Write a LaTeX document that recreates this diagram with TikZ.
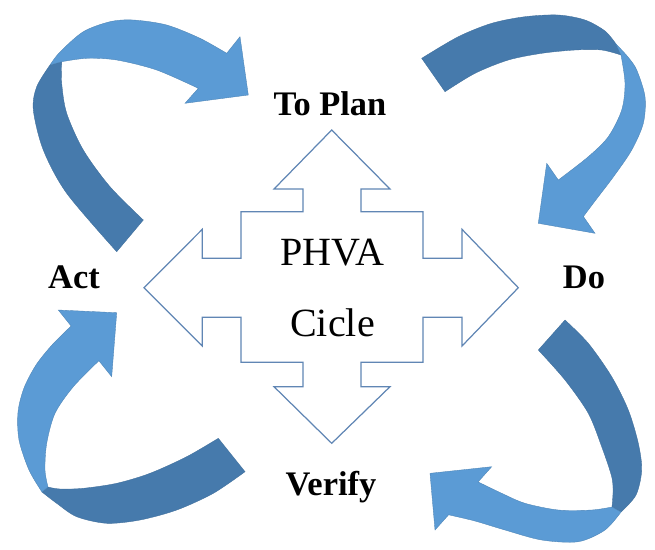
\documentclass[tikz,border=0pt]{standalone}
\usepackage{fontspec}
\setmainfont{Liberation Serif}
\usepackage{tikz}
\definecolor{bandback}{RGB}{70,122,172}
\definecolor{bandfront}{RGB}{91,155,213}
\definecolor{crossline}{RGB}{96,134,180}

\begin{document}
\begin{tikzpicture}[x=0.02cm,y=-0.02cm]
  \tikzstyle{every node}=[inner sep=0pt,anchor=base]
  \tikzstyle{stage}=[font=\fontsize{19.6}{20}\selectfont\bfseries]
  \tikzstyle{core}=[font=\fontsize{22.8}{24}\selectfont]
  \tikzstyle{darkband}=[fill=bandback,draw=bandback!90!black,line width=0.2pt]
  \tikzstyle{lightband}=[fill=bandfront,draw=bandfront!85!black,line width=0.2pt]
  \useasboundingbox (0,0) rectangle (655,549);
  %
  % four-way arrow in the middle
  \draw[crossline,line width=0.7pt,line join=miter]
    (331.7,130) -- (390,189) -- (361,189) -- (361,211.7) -- (423,211.7) -- (423,258.3)
    -- (462,258.3) -- (462,229.3) -- (518.3,287.7) -- (462,346) -- (462,317.3) -- (423,317.3)
    -- (423,362.3) -- (361,362.3) -- (361,386.7) -- (390,386.7) -- (331.7,443.3) -- (274,386.7)
    -- (303,386.7) -- (303,362.3) -- (241,362.3) -- (241,317.3) -- (202.3,317.3) -- (202.3,346)
    -- (144,287.7) -- (202.3,229.3) -- (202.3,258.3) -- (241,258.3) -- (241,211.7) -- (303,211.7)
    -- (303,189) -- (274,189) -- cycle;
  %
  \node[core] (phva) at (332.5,265) {PHVA};
  \node[core] (cicle) at (332.5,336.7) {Cicle};
  \node[stage] (plan) at (330,115.7) {To Plan};
  \node[stage] (do) at (584,288) {Do};
  \node[stage] (verify) at (331,495.7) {Verify};
  \node[stage] (act) at (74,288.3) {Act};
  %
  % act -> plan
  \filldraw[darkband] plot[smooth] coordinates {(116.7,251.7) (66.7,193.3) (43.3,150) (33.3,110) (36.7,86.7) (50,65)}
    -- plot[smooth] coordinates {(61.7,61.7) (61.7,83.3) (66.7,113.3) (83.3,150) (110,186.7) (143.3,220)} -- cycle;
  \filldraw[lightband] plot[smooth] coordinates {(50,65) (60,52) (83.3,31.7) (110,21.7) (133.3,20) (166.7,25) (200,38.3) (226.7,53.3)}
    -- (240,36.7) -- (248.3,95) -- (185,103.3)
    -- plot[smooth] coordinates {(198.3,88.3) (156.7,70) (116.7,60) (86.7,58.3) (61.7,61.7)} -- cycle;
  %
  % plan -> do
  \filldraw[darkband] plot[smooth] coordinates {(421.7,58.3) (458.3,36.7) (491.7,23.3) (525,16.7) (558.3,15) (585,20) (605,31) (616,44)}
    -- plot[smooth] coordinates {(621,55) (601.7,50) (575,50) (541.7,53.3) (508.3,60) (475,73.3) (445,91.7)} -- cycle;
  \filldraw[lightband] plot[smooth] coordinates {(616,44) (628,57) (636.7,70) (645,96.7) (643.3,123.3) (631.7,150) (614,176) (595,201) (583.4,216.5)}
    -- (595,233.3) -- (538.3,223.3) -- (546.7,163.3)
    -- plot[smooth] coordinates {(558.3,180) (588.3,156.7) (608.3,136.7) (621.7,110) (625,83.3) (621,55)} -- cycle;
  %
  % do -> verify
  \filldraw[darkband] plot[smooth] coordinates {(565,320) (588.3,343.3) (611.7,376.7) (628.3,410) (638.3,443.3) (641.7,470) (636,495) (621,512)}
    -- plot[smooth] coordinates {(612,507) (613,492) (611.7,476.7) (601.7,446.7) (588.3,413.3) (565,380) (538.3,350)} -- cycle;
  \filldraw[lightband] plot[smooth] coordinates {(621,512) (605,530) (578.3,541.7) (541.7,540) (505,530) (475,521) (448.6,514.8)}
    -- (435,530) -- (430,473.3) -- (491.7,466.7)
    -- plot[smooth] coordinates {(478.1,481.9) (501.7,493.3) (525,503.3) (558.3,510) (591.7,510) (612,507)} -- cycle;
  %
  % verify -> act
  \filldraw[darkband] plot[smooth] coordinates {(42,492) (56.7,503.3) (76.7,516.7) (106.7,523.3) (140,520) (176.7,510) (213.3,493.3) (245,471.7)}
    -- plot[smooth] coordinates {(218.3,438.3) (186.7,456.7) (150,473.3) (116.7,483.3) (83.3,488.3) (60,489) (48,487)} -- cycle;
  \filldraw[lightband] plot[smooth] coordinates {(42,492) (29,470) (19,440) (18,412) (24,388) (36,365) (52,345) (71.1,326)}
    -- (58.3,310) -- (116.7,312.7) -- (111.7,376.7)
    -- plot[smooth] coordinates {(98.9,360.7) (73.3,386.7) (55,413.3) (46.7,443.3) (45,470) (48,487)} -- cycle;
\end{tikzpicture}
\end{document}
